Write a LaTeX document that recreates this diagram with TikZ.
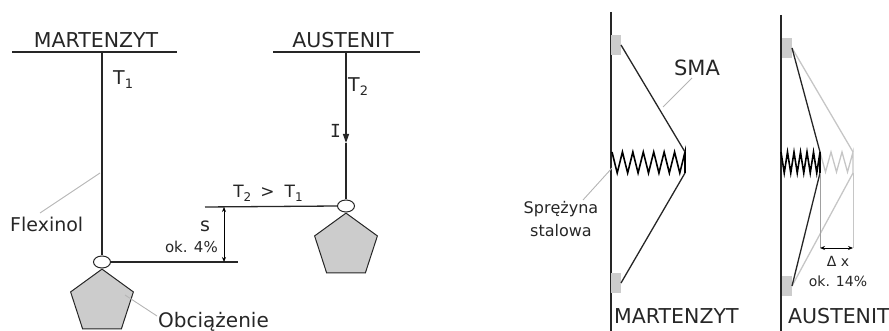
\documentclass[tikz,border=0pt]{standalone}
\usepackage{fontspec}
\setmainfont{DejaVu Sans}
\newfontfamily\barredI{DejaVu Sans Mono}
\usetikzlibrary{shapes.geometric,arrows.meta}
\definecolor{ink}{HTML}{262626}
\definecolor{weightgray}{HTML}{CCCCCC}
\definecolor{leadergray}{HTML}{B4B4B4}
\definecolor{palewire}{HTML}{C6C6C6}
\definecolor{guidegray}{HTML}{A0A0A0}
% lowered index set in a smaller size
\newcommand\lowidx[2][13]{\raisebox{-0.35ex}{\fontsize{#1}{#1}\selectfont #2}}
\begin{document}
\begin{tikzpicture}[x=1pt,y=-1pt,
  bar/.style={draw=ink,line width=1.3pt},
  wire/.style={draw=ink,line width=1.3pt},
  coil/.style={draw=black,line width=1.6pt,line join=miter},
  palestroke/.style={draw=palewire,line width=1.3pt},
  guide/.style={draw=guidegray,line width=0.9pt},
  leader/.style={draw=leadergray,line width=0.9pt},
  ring/.style={ellipse,draw=ink,fill=white,line width=1pt,minimum width=17pt,minimum height=12pt,inner sep=0pt},
  weight/.style={regular polygon,regular polygon sides=5,draw=ink,fill=weightgray,line width=1pt,minimum size=66pt,inner sep=0pt},
  clamp/.style={fill=weightgray,minimum width=10pt,minimum height=20pt,inner sep=0pt,outer sep=0pt},
  dimline/.style={draw=black,line width=0.9pt,{Stealth[length=5pt,width=4pt]}-{Stealth[length=5pt,width=4pt]}},
  title/.style={text=ink,inner sep=0pt,font=\fontsize{20.5}{24}\selectfont},
  lbl/.style={text=ink,inner sep=0pt,font=\fontsize{19}{22}\selectfont},
  small/.style={text=ink,inner sep=0pt,font=\fontsize{14}{17}\selectfont},
]
\useasboundingbox (0,0) rectangle (889,331);

% ---------- left: hanging wire with a load ----------
\node[title,anchor=base] (tM) at (96,48) {MARTENZYT};
\coordinate (b1l) at (12,52);
\coordinate (b1r) at (177,52);
\coordinate (top1) at (102,52);
\draw[bar] (b1l) -- (b1r);

\node[title,anchor=base] (tA) at (343,48) {AUSTENIT};
\coordinate (b2l) at (273,52);
\coordinate (b2r) at (420,52);
\coordinate (top2) at (346,52);
\draw[bar] (b2l) -- (b2r);

\node[ring] (c1) at (102,262) {};
\node[weight,anchor=corner 1] (p1) at (c1.south) {};
\draw[wire] (top1) -- (c1.north);

\node[ring] (c2) at (346,206) {};
\node[weight,anchor=corner 1] (p2) at (c2.south) {};
\coordinate (amid) at (346,143);
\draw[wire,-{Triangle[length=9pt,width=6pt]}] (top2) -- (amid);
\draw[wire] (amid) -- (c2.north);

% reference levels and stroke dimension
\coordinate (lvl1) at (238,262);
\coordinate (lvl2) at (205,207);
\coordinate (d1) at (224,207);
\coordinate (d2) at (224,262);
\draw[wire] (c1.east) -- (lvl1);
\draw[wire] (lvl2) -- (c2.west);
\draw[dimline] (d1) -- (d2);

\node[lbl,anchor=base west] (T1) at (113,85) {T\lowidx{1}};
\node[lbl,anchor=base west] (T2) at (348,92) {T\lowidx{2}};
\node[lbl,anchor=base west,font=\barredI\fontsize{18}{22}\selectfont] (Ic) at (330,138) {I};
\node[lbl,anchor=base,font=\fontsize{17}{20}\selectfont] (Tgt) at (268,198)
  {T\lowidx[12]{2}\hspace{9pt}>\hspace{10pt}T\lowidx[12]{1}};
\node[lbl,anchor=base] (s) at (205,232) {s};
\node[small,anchor=base east,font=\fontsize{15}{18}\selectfont] (ok4) at (218,252) {ok. 4\%};

\node[lbl,anchor=base west] (flex) at (10,232) {Flexinol};
\coordinate (flexA) at (40,213);
\coordinate (flexB) at (100,173);
\draw[leader] (flexA) -- (flexB);

\node[lbl,anchor=base west,font=\fontsize{20}{24}\selectfont] (obc) at (158,327) {Obciążenie};
\coordinate (obcA) at (125,295);
\coordinate (obcB) at (157,316);
\draw[leader] (obcA) -- (obcB);

% ---------- right: wire and spring, martensite ----------
\coordinate (w1t) at (611,12);
\coordinate (w1b) at (611,331);
\draw[wire,line width=1.4pt] (w1t) -- (w1b);
\node[clamp] (sq1) at (616,45) {};
\node[clamp] (sq2) at (616,283) {};
\coordinate (k1) at (685,152);
\coordinate (k2) at (685,173);
\draw[coil] (612,152) \foreach \k in {1,...,7} { -- ++(5.214,21) -- ++(5.214,-21) } -- (k2);
\draw[wire] (sq1.east) -- (k1);
\draw[wire] (k2) -- (sq2.east);

\node[lbl,anchor=center,font=\fontsize{21}{24}\selectfont] (sma) at (697,68) {SMA};
\coordinate (smaA) at (692,78);
\coordinate (smaB) at (663,107);
\draw[leader] (smaA) -- (smaB);

\node[small,align=center,font=\fontsize{16}{23}\selectfont] (spr) at (561,219) {Sprężyna\\stalowa};
\coordinate (sprA) at (583,200);
\coordinate (sprB) at (612,168);
\draw[leader] (sprA) -- (sprB);

\node[title,anchor=base west] (bM) at (614,323) {MARTENZYT};

% ---------- right: wire and spring, austenite ----------
\coordinate (w2t) at (781,15);
\coordinate (w2b) at (781,331);
\draw[wire,line width=1.4pt] (w2t) -- (w2b);
\node[clamp] (sq3) at (787,48) {};
\node[clamp] (sq4) at (787,286) {};

% former (martensite) position, pale
\coordinate (g1) at (853,152);
\coordinate (g2) at (853,173);
\draw[palestroke] (820,152) \foreach \k in {1,...,3} { -- ++(5.5,20) -- ++(5.5,-20) } -- (g2);
\draw[palestroke] (sq3.east) -- (g1);
\draw[palestroke] (g2) -- (sq4.east);

% contracted position
\coordinate (h1) at (820,152);
\coordinate (h2) at (820,173);
\draw[coil] (781,152) \foreach \k in {1,...,6} { -- ++(3.25,21) -- ++(3.25,-21) } -- (h2);
\draw[wire] (sq3.east) -- (h1);
\draw[wire] (h2) -- (sq4.east);

% displacement dimension
\coordinate (e1) at (820,248);
\coordinate (e2) at (853,248);
\draw[guide] (h2) -- (e1);
\draw[guide,draw=palewire] (g2) -- (e2);
\draw[dimline] (e1) -- (e2);
\node[small,anchor=center,font=\fontsize{14}{17}\selectfont] (dx) at (838,261) {Δ x};
\node[small,anchor=center,font=\fontsize{14}{17}\selectfont] (ok14) at (838,281) {ok. 14\%};

\node[title,anchor=base west] (bA) at (788,323) {AUSTENIT};
\end{tikzpicture}
\end{document}
